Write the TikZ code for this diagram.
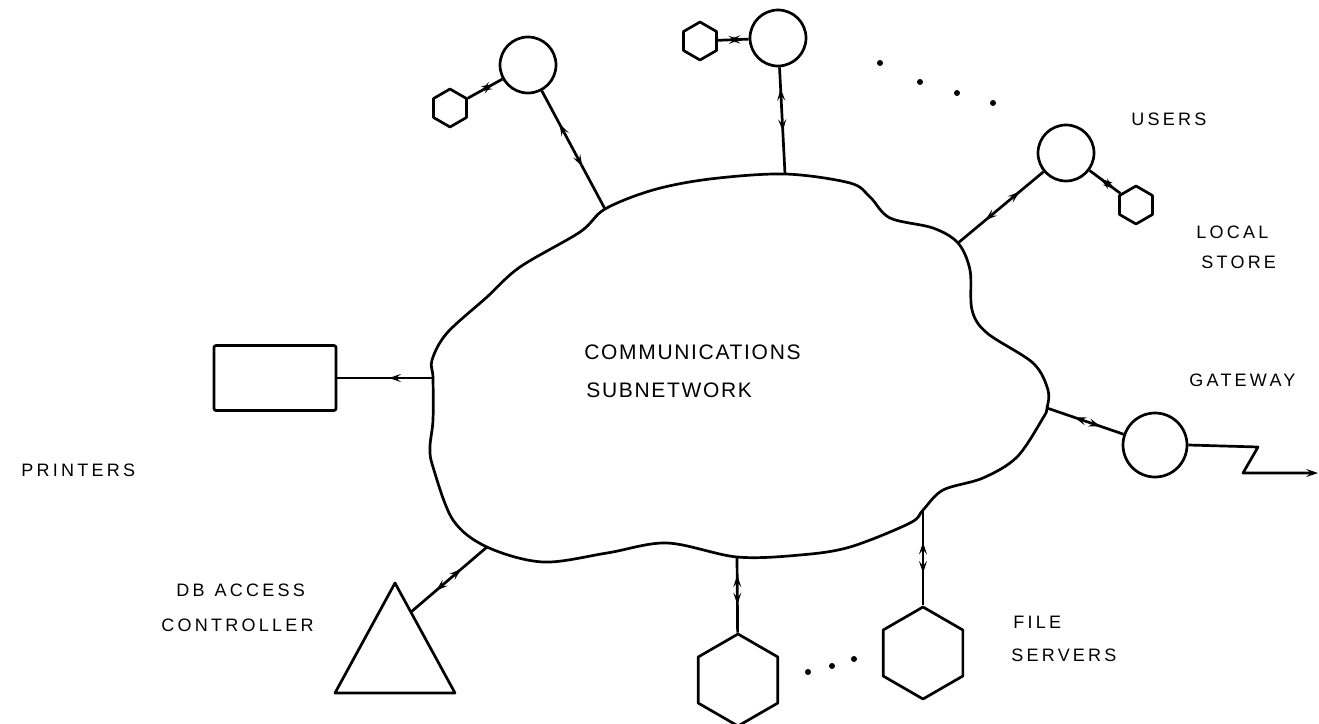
\documentclass[tikz,border=0pt]{standalone}
\usepackage{fontspec}
\newfontfamily\lbl{Liberation Sans}
\usetikzlibrary{shapes.geometric,arrows.meta,decorations.markings}

\tikzset{
  >={Stealth[length=12pt,width=8pt,inset=5pt]},
  user/.style={circle,draw,minimum size=56pt,inner sep=0pt},
  store/.style={regular polygon,regular polygon sides=6,shape border rotate=30,draw,minimum size=38pt,inner sep=0pt},
  server/.style={store,minimum size=92pt},
  lab/.style={font=\lbl\addfontfeatures{LetterSpace=18}\fontsize{18}{22}\selectfont,inner sep=0pt,anchor=west},
  biglab/.style={font=\lbl\addfontfeatures{LetterSpace=8}\fontsize{21}{25}\selectfont,inner sep=0pt,anchor=west},
  bidi/.style 2 args={postaction={decorate,decoration={markings,
      mark=at position #1 with {\arrowreversed{>}},
      mark=at position #2 with {\arrow{>}}}}},
  fwd/.style={postaction={decorate,decoration={markings,
      mark=at position #1 with {\arrow{>}}}}},
  dot/.style={circle,fill,inner sep=0pt,minimum size=6pt},
}

\begin{document}
\begin{tikzpicture}[x=1pt,y=-1pt,line width=2.7pt,line join=round]
\useasboundingbox (0,0) rectangle (1319,723);

% the communications subnetwork (cloud)
\draw plot[smooth cycle,tension=0.55] coordinates {
  (605,209) (653,190) (710,179) (785,174) (850,183) (870,197) (890,218)
  (933,228) (958,243) (970,270) (972,310) (987,333) (1033,363) (1048,390)
  (1047,408) (1043,418) (1017,457) (983,478) (943,490) (923,510) (910,523)
  (850,547) (800,555) (737,557) (667,543) (607,553) (543,562) (487,547)
  (453,520) (433,467) (430,447) (433,420) (433,378) (432,360) (447,333)
  (487,297) (520,267) (580,232)};

% attachment points on the cloud
\coordinate (jTL)  at (605,209);
\coordinate (jT)   at (785,174);
\coordinate (jR)   at (958,243);
\coordinate (jG)   at (1047,408);
\coordinate (jFS2) at (923,510);
\coordinate (jFS1) at (737,557);
\coordinate (jDB)  at (487,547);
\coordinate (jP)   at (433,378);

\node[biglab] (comm) at (583,352) {COMMUNICATIONS};
\node[biglab] (subn) at (585,390) {SUBNETWORK};

% users with their local stores
\node[user]  (uTL) at (528,65) {};
\node[store] (sTL) at (450,108) {};
\node[user]  (uT)  at (778,38) {};
\node[store] (sT)  at (700,41) {};
\node[user]  (uR)  at (1066,153) {};
\node[store] (sR)  at (1136,205) {};

\draw[bidi={.28}{.64}] (uTL) -- (jTL);
\draw[bidi={.36}{.74}] (sTL) -- (uTL);
\draw[bidi={.34}{.74}] (sT) -- (uT);
\draw[bidi={.20}{.60}] (uT) -- (jT);
\draw[bidi={.28}{.68}] (uR) -- (jR);
\draw[bidi={.36}{.80}] (uR) -- (sR);

\node[dot] (d1) at (880,63) {};
\node[dot] (d2) at (920,82) {};
\node[dot] (d3) at (957,93) {};
\node[dot] (d4) at (993,103) {};

\node[lab] (users) at (1130,119) {USERS};
\node[lab] (local) at (1195,232) {LOCAL};
\node[lab] (store) at (1200,262) {STORE};

% gateway
\node[user,minimum size=64pt] (gw) at (1155,445) {};
\coordinate (gwA) at (1258,447);
\coordinate (gwB) at (1243,473);
\coordinate (gwout) at (1318,473);
\draw[bidi={.36}{.70}] (jG) -- (gw);
\draw[->] (gw.east) -- (gwA) -- (gwB) -- (gwout);
\node[lab] (gwl) at (1188,380) {GATEWAY};

% printers
\node[draw,rounded corners=2pt,minimum width=122pt,minimum height=65pt,inner sep=0pt] (printer) at (275,378) {};
\draw[fwd=.46] (jP) -- (printer);
\node[lab] (prl) at (20,470) {PRINTERS};

% data base access controller
\coordinate (dbtop) at (395,583);
\coordinate (dbright) at (455,693);
\coordinate (dbleft) at (335,693);
\coordinate (dbside) at (411,612);
\draw (dbtop) -- (dbright) -- (dbleft) -- cycle;
\draw[bidi={.34}{.67}] (jDB) -- (dbside);
\node[lab] (dbl1) at (175,590) {DB\hspace{10pt}ACCESS};
\node[lab] (dbl2) at (160,625) {CONTROLLER};

% file servers
\node[server] (fs1) at (738,680) {};
\node[server] (fs2) at (923,653) {};
\draw[bidi={.24}{.63}] (jFS1) -- (fs1);
\draw[bidi={.34}{.66}] (jFS2) -- (fs2);
\node[dot] (d5) at (808,672) {};
\node[dot] (d6) at (832,666) {};
\node[dot] (d7) at (854,659) {};
\node[lab] (fsl1) at (1012,622) {FILE};
\node[lab] (fsl2) at (1010,655) {SERVERS};
\end{tikzpicture}
\end{document}
